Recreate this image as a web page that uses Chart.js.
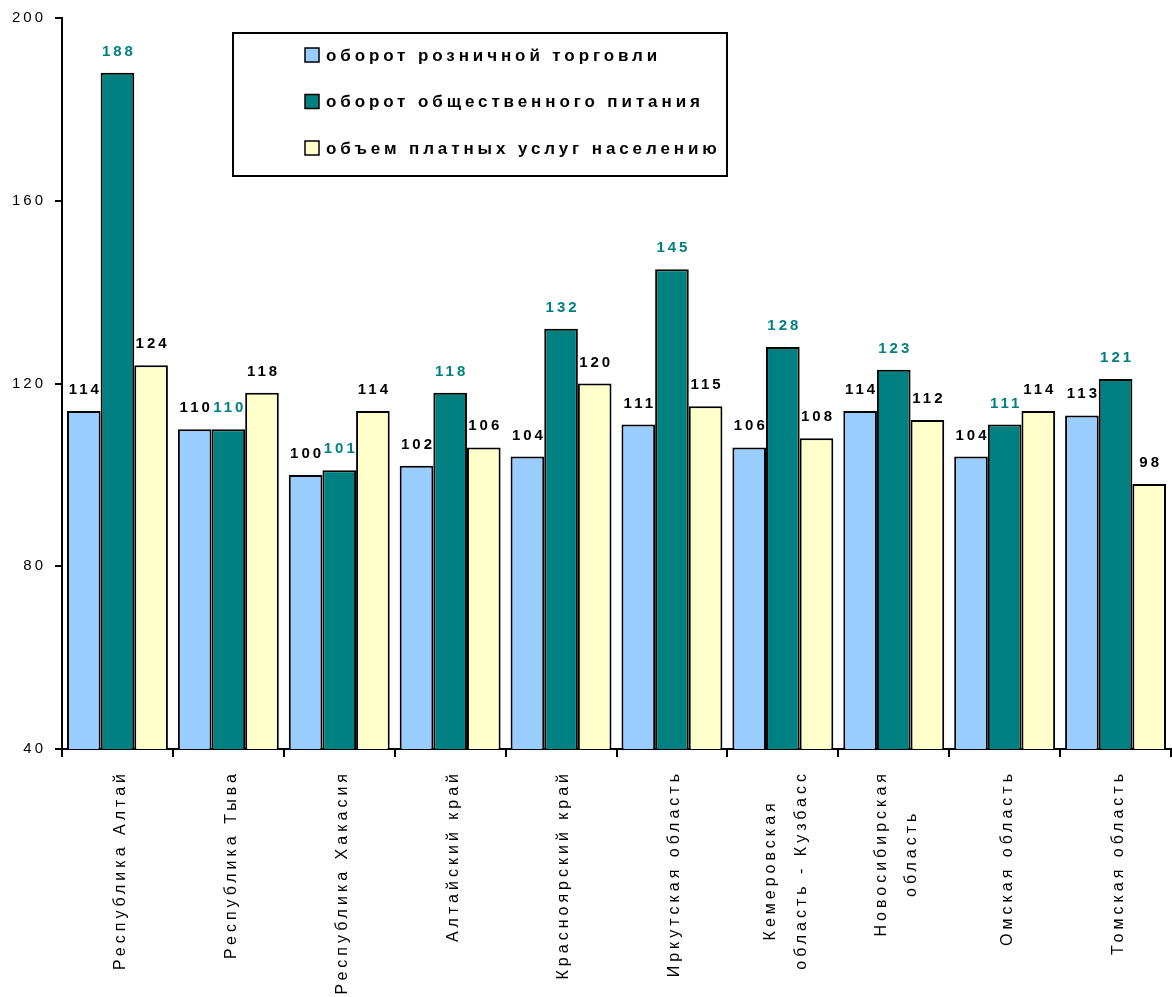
<!DOCTYPE html>
<html>
<head>
<meta charset="utf-8">
<script src="https://cdn.jsdelivr.net/npm/chart.js@4.4.1/dist/chart.umd.min.js"></script>
<style>
  html, body { margin: 0; padding: 0; background: #fff; }
  canvas { display: block; }
</style>
</head>
<body>
<canvas id="chart" width="1172" height="997"></canvas>
<script>
const regions = [
  ['Республика Алтай'],
  ['Республика Тыва'],
  ['Республика Хакасия'],
  ['Алтайский край'],
  ['Красноярский край'],
  ['Иркутская область'],
  ['Кемеровская', 'область - Кузбасс'],
  ['Новосибирская', 'область'],
  ['Омская область'],
  ['Томская область']
];
const seriesNames = ['оборот розничной торговли', 'оборот общественного питания', 'объем платных услуг населению'];
const retail   = [114, 110, 100, 102, 104, 111, 106, 114, 104, 113];
const catering = [188, 110, 101, 118, 132, 145, 128, 123, 111, 121];
const services = [124, 118, 114, 106, 120, 115, 108, 112, 114, 98];
const yTicks = [40, 80, 120, 160, 200];

const FONT = '"Liberation Sans", Arial, sans-serif';
const fills = ['#99CCFF', '#008080', '#FFFFCC'];
const labelColors = ['#000000', '#008080', '#000000'];

// letter-spaced text like the original export
const spacing = {
  id: 'spacing',
  beforeDraw(chart) { chart.ctx.letterSpacing = '3px'; }
};

// numbers above each bar
const valueLabels = {
  id: 'valueLabels',
  afterDatasetsDraw(chart) {
    const ctx = chart.ctx;
    ctx.save();
    ctx.font = 'bold 15px ' + FONT;
    ctx.letterSpacing = '3px';
    ctx.textAlign = 'left';
    ctx.textBaseline = 'alphabetic';
    chart.data.datasets.forEach((ds, i) => {
      const meta = chart.getDatasetMeta(i);
      ctx.fillStyle = labelColors[i];
      meta.data.forEach((bar, j) => {
        const txt = String(ds.data[j]);
        const w = ctx.measureText(txt).width - 3;
        ctx.fillText(txt, bar.x - w / 2, bar.y - 17);
      });
    });
    ctx.restore();
  }
};

// vertical region names, lines centred on each other
const regionLabels = {
  id: 'regionLabels',
  afterDraw(chart) {
    const ctx = chart.ctx;
    const xs = chart.scales.x;
    ctx.save();
    ctx.font = '16px ' + FONT;
    ctx.letterSpacing = '4px';
    ctx.fillStyle = '#000';
    ctx.textAlign = 'center';
    ctx.textBaseline = 'middle';
    regions.forEach((lines, i) => {
      const x = xs.getPixelForValue(i);
      const maxW = Math.max(...lines.map(l => ctx.measureText(l).width));
      const cy = xs.top + 21 + maxW / 2;
      lines.forEach((l, j) => {
        ctx.save();
        ctx.translate(x + 3 + (j - (lines.length - 1) / 2) * 30.5, cy);
        ctx.rotate(-Math.PI / 2);
        ctx.fillText(l, 0, 0);
        ctx.restore();
      });
    });
    ctx.restore();
  }
};

// framed legend inside the plot
const boxLegend = {
  id: 'boxLegend',
  afterDraw(chart) {
    const ctx = chart.ctx;
    ctx.save();
    ctx.strokeStyle = '#000';
    ctx.lineWidth = 2;
    ctx.strokeRect(233, 33, 494, 143);
    ctx.font = 'bold 17px ' + FONT;
    ctx.letterSpacing = '3.9px';
    ctx.textAlign = 'left';
    ctx.textBaseline = 'middle';
    chart.data.datasets.forEach((ds, i) => {
      const cy = 55 + i * 46.5;
      ctx.fillStyle = ds.backgroundColor;
      ctx.fillRect(305, cy - 7, 14, 14);
      ctx.lineWidth = 1.5;
      ctx.strokeRect(305, cy - 7, 14, 14);
      ctx.fillStyle = '#000';
      ctx.fillText(ds.label, 326, cy + 1);
    });
    ctx.restore();
  }
};

new Chart(document.getElementById('chart'), {
  type: 'bar',
  data: {
    labels: regions,
    datasets: [
      { label: seriesNames[0], data: retail,   backgroundColor: fills[0] },
      { label: seriesNames[1], data: catering, backgroundColor: fills[1] },
      { label: seriesNames[2], data: services, backgroundColor: fills[2] }
    ].map(d => Object.assign(d, {
      borderColor: '#000',
      borderWidth: 2,
      categoryPercentage: 0.91,
      barPercentage: 1.0
    }))
  },
  options: {
    responsive: false,
    animation: false,
    devicePixelRatio: 1,
    layout: { padding: { top: 17, right: 1, left: 0, bottom: 0 } },
    plugins: {
      legend: { display: false },
      tooltip: { enabled: false }
    },
    scales: {
      x: {
        ticks: { display: false },
        grid: { drawOnChartArea: false, drawTicks: true, tickLength: 8, color: '#000', lineWidth: 2 },
        border: { display: true, color: '#000', width: 2 },
        afterFit(s) { s.height = 248; }
      },
      y: {
        min: 40,
        max: 200,
        afterBuildTicks(s) { s.ticks = yTicks.map(v => ({ value: v })); },
        ticks: { color: '#000', font: { family: FONT, size: 15 }, padding: 9 },
        grid: { drawOnChartArea: false, drawTicks: true, tickLength: 7, color: '#000', lineWidth: 2 },
        border: { display: true, color: '#000', width: 2 },
        afterFit(s) { s.width = 62; }
      }
    }
  },
  plugins: [spacing, valueLabels, regionLabels, boxLegend]
});
</script>
</body>
</html>
